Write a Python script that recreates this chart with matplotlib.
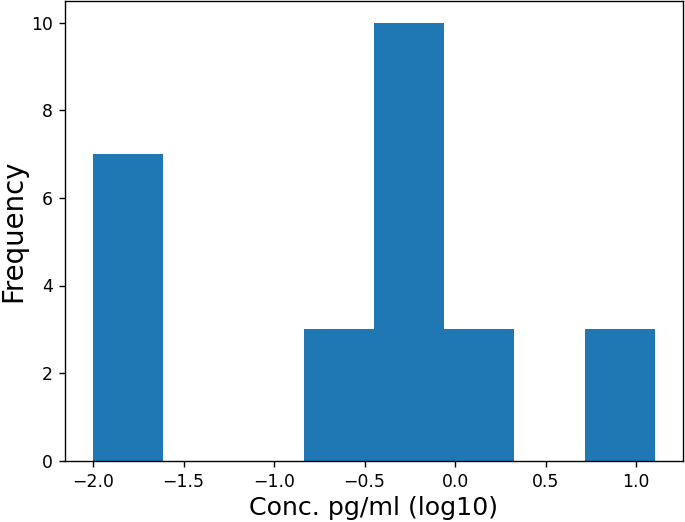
import numpy as np
import matplotlib
matplotlib.use('Agg')
import matplotlib.pyplot as plt

# histogram bin edges and counts
bin_edges = [-2.0, -1.612, -1.224, -0.836, -0.448, -0.06, 0.328, 0.716, 1.104]
counts = [7, 0, 0, 3, 10, 3, 0, 3]

def main():
	dpi = 124
	fig = plt.figure(figsize=(685/dpi, 522/dpi), dpi=dpi)
	ax = fig.add_axes([65/685, (522-460.7)/522, (683-65)/685, (460.7-0.8)/522])

	ax.hist(bin_edges[:-1], bins=bin_edges, weights=counts, color='#1f77b4')

	ax.set_xlabel('Conc. pg/ml (log10)', fontsize=14.7, labelpad=3)
	ax.set_ylabel('Frequency', fontsize=16, labelpad=2)
	ax.tick_params(axis='both', which='major', labelsize=10)

	fig.savefig('out.png', dpi=dpi)

main()
